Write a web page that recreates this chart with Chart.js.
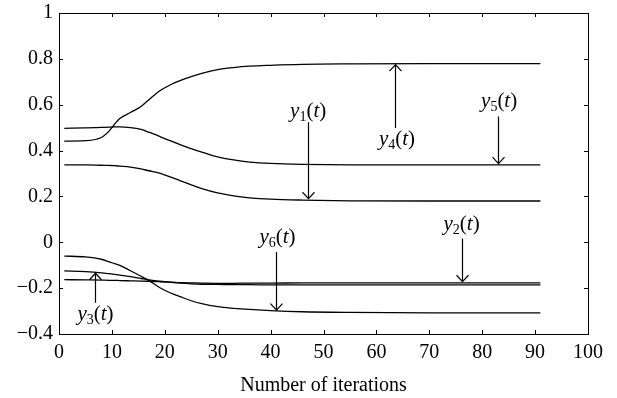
<!DOCTYPE html>
<html>
<head>
<meta charset="utf-8">
<script src="https://cdn.jsdelivr.net/npm/chart.js@4/dist/chart.umd.min.js"></script>
<style>
  html, body { margin: 0; padding: 0; background: #fff; }
  #wrap { width: 617px; height: 398px; position: relative; }
</style>
</head>
<body>
<div id="wrap"><canvas id="c" width="617" height="398"></canvas></div>
<script>
// ---- data ----
const iterations = [1, 5, 8, 9.5, 10.5, 11.5, 13.5, 15.5, 17, 19, 21, 23, 25, 27, 30, 33, 36, 40, 46, 55, 70, 91];
const y1 = [0.338, 0.338, 0.336, 0.335, 0.334, 0.332, 0.328, 0.320, 0.312, 0.302, 0.285, 0.268, 0.250, 0.234, 0.215, 0.202, 0.194, 0.188, 0.184, 0.181, 0.180, 0.180];
const y2 = [-0.163, -0.164, -0.165, -0.166, -0.166, -0.167, -0.168, -0.169, -0.170, -0.172, -0.174, -0.176, -0.177, -0.178, -0.179, -0.179, -0.178, -0.178, -0.177, -0.177, -0.177, -0.177];
const y3 = [-0.125, -0.128, -0.133, -0.137, -0.140, -0.143, -0.150, -0.158, -0.164, -0.170, -0.174, -0.178, -0.181, -0.183, -0.184, -0.185, -0.185, -0.186, -0.186, -0.186, -0.186, -0.186];
const y4 = [0.441, 0.443, 0.457, 0.486, 0.515, 0.540, 0.566, 0.592, 0.622, 0.660, 0.686, 0.706, 0.723, 0.737, 0.753, 0.762, 0.768, 0.772, 0.776, 0.778, 0.779, 0.779];
const y5 = [0.497, 0.499, 0.501, 0.502, 0.503, 0.503, 0.500, 0.492, 0.480, 0.462, 0.443, 0.425, 0.408, 0.393, 0.372, 0.359, 0.350, 0.344, 0.340, 0.338, 0.338, 0.338];
const y6 = [-0.060, -0.064, -0.074, -0.085, -0.093, -0.101, -0.124, -0.148, -0.167, -0.197, -0.220, -0.238, -0.255, -0.268, -0.281, -0.288, -0.293, -0.298, -0.303, -0.306, -0.308, -0.308];

const xTickValues = [0, 10, 20, 30, 40, 50, 60, 70, 80, 90, 100];
const yTickValues = [-0.4, -0.2, 0, 0.2, 0.4, 0.6, 0.8, 1];
const yTickLabels = ['\u22120.4', '\u22120.2', '0', '0.2', '0.4', '0.6', '0.8', '1'];
const xTitle = 'Number of iterations';

// annotations (data coordinates)
const annSub    = ['1', '4', '5', '2', '6', '3'];
const annLabelX = [47.1, 63.9, 83.2, 76.1, 41.3, 6.9];
const annLabelY = [0.571, 0.449, 0.615, 0.080, 0.023, -0.314];
const annArrowX = [47.1, 63.6, 83.0, 76.1, 41.0, 6.8];
const annFromY  = [0.524, 0.498, 0.549, 0.016, -0.042, -0.264];
const annToY    = [0.190, 0.775, 0.343, -0.172, -0.296, -0.135];

const FONT = '"Liberation Serif", "DejaVu Serif", serif';
const series = [y1, y2, y3, y4, y5, y6];

const datasets = series.map((s, i) => ({
  label: 'y' + (i + 1),
  data: iterations.map((x, j) => ({ x: x, y: s[j] })),
  borderColor: '#000',
  borderWidth: 1.3,
  pointRadius: 0,
  fill: false,
  cubicInterpolationMode: 'monotone'
}));

const framePlugin = {
  id: 'frame',
  afterDraw(chart) {
    const ctx = chart.ctx;
    const a = chart.chartArea;
    const xs = chart.scales.x, ys = chart.scales.y;
    ctx.save();
    ctx.strokeStyle = '#000';
    ctx.lineWidth = 1;
    ctx.strokeRect(Math.round(a.left) + 0.5, Math.round(a.top) + 0.5,
                   Math.round(a.right) - Math.round(a.left), Math.round(a.bottom) - Math.round(a.top));
    const tl = 4;
    ctx.beginPath();
    xTickValues.forEach(v => {
      const px = Math.round(xs.getPixelForValue(v)) + 0.5;
      ctx.moveTo(px, a.bottom); ctx.lineTo(px, a.bottom - tl);
      ctx.moveTo(px, a.top); ctx.lineTo(px, a.top + tl);
    });
    yTickValues.forEach(v => {
      const py = Math.round(ys.getPixelForValue(v)) + 0.5;
      ctx.moveTo(a.left, py); ctx.lineTo(a.left + tl, py);
      ctx.moveTo(a.right, py); ctx.lineTo(a.right - tl, py);
    });
    ctx.stroke();

    // annotations
    const mainSize = 21, subSize = 14;
    annSub.forEach((sub, i) => {
      // arrow
      const ax = Math.round(xs.getPixelForValue(annArrowX[i])) + 0.5;
      const y0 = ys.getPixelForValue(annFromY[i]);
      const y1p = ys.getPixelForValue(annToY[i]);
      const dir = y1p > y0 ? 1 : -1;
      ctx.beginPath();
      ctx.lineWidth = 1.2;
      ctx.moveTo(ax, y0); ctx.lineTo(ax, y1p);
      ctx.moveTo(ax - 6, y1p - dir * 6.5); ctx.lineTo(ax, y1p); ctx.lineTo(ax + 6, y1p - dir * 6.5);
      ctx.stroke();

      // label  y_sub(t)
      const parts = [
        { t: 'y', f: 'italic ' + mainSize + 'px ' + FONT, dy: 0 },
        { t: sub, f: subSize + 'px ' + FONT, dy: 4 },
        { t: '(', f: mainSize + 'px ' + FONT, dy: 0 },
        { t: 't', f: 'italic ' + mainSize + 'px ' + FONT, dy: 0 },
        { t: ')', f: mainSize + 'px ' + FONT, dy: 0 }
      ];
      let w = 0;
      parts.forEach(p => { ctx.font = p.f; p.w = ctx.measureText(p.t).width; w += p.w; });
      let x = xs.getPixelForValue(annLabelX[i]) - w / 2;
      const cy = ys.getPixelForValue(annLabelY[i]);
      ctx.fillStyle = '#000';
      ctx.textBaseline = 'alphabetic';
      ctx.textAlign = 'left';
      const base = cy + mainSize * 0.28;
      parts.forEach(p => { ctx.font = p.f; ctx.fillText(p.t, x, base + p.dy); x += p.w; });
    });
    ctx.restore();
  }
};

new Chart(document.getElementById('c'), {
  type: 'line',
  data: { datasets: datasets },
  options: {
    responsive: false,
    animation: false,
    layout: { padding: { top: 13, right: 29, left: 0, bottom: 0 } },
    plugins: { legend: { display: false }, tooltip: { enabled: false } },
    scales: {
      x: {
        type: 'linear', min: 0, max: 100,
        afterBuildTicks(scale) { scale.ticks = xTickValues.map(v => ({ value: v })); },
        afterFit(scale) { scale.height = 64; scale.paddingLeft = 0; scale.paddingRight = 0; },
        grid: { display: false, drawTicks: false },
        border: { display: false },
        ticks: { color: '#000', font: { family: FONT, size: 20 }, padding: 7, maxRotation: 0, autoSkip: false },
        title: { display: true, text: xTitle, color: '#000', font: { family: FONT, size: 20 }, padding: { top: 1, bottom: 0 } }
      },
      y: {
        type: 'linear', min: -0.4, max: 1,
        afterBuildTicks(scale) { scale.ticks = yTickValues.map(v => ({ value: v })); },
        afterFit(scale) { scale.width = 59; scale.paddingTop = 0; scale.paddingBottom = 0; },
        grid: { display: false, drawTicks: false },
        border: { display: false },
        ticks: {
          color: '#000', font: { family: FONT, size: 20 }, padding: 6, autoSkip: false,
          callback: (v) => { const k = yTickValues.findIndex(t => Math.abs(t - v) < 1e-9); return k >= 0 ? yTickLabels[k] : ''; }
        }
      }
    }
  },
  plugins: [framePlugin]
});
</script>
</body>
</html>
